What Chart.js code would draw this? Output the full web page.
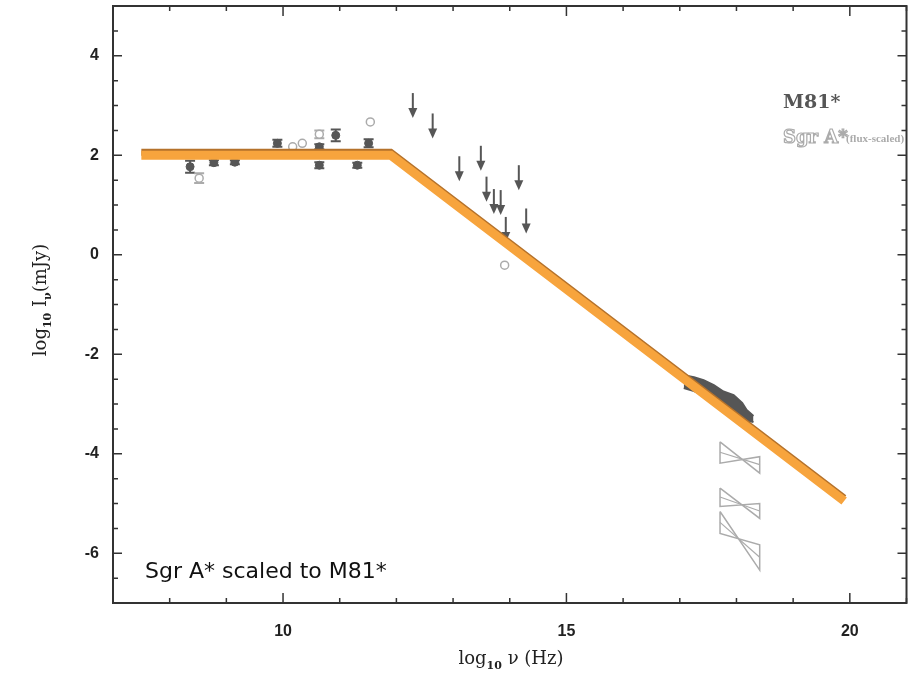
<!DOCTYPE html>
<html>
<head>
<meta charset="utf-8">
<script src="https://cdn.jsdelivr.net/npm/chart.js@4.4.1/dist/chart.umd.min.js"></script>
<style>
  html, body { margin: 0; padding: 0; background: #fff; }
  #wrap { width: 912px; height: 678px; position: relative; }
</style>
</head>
<body>
<div id="wrap"><canvas id="sed" width="912" height="678"></canvas></div>
<script>
// log10 frequency (Hz) vs log10 flux density (mJy)
const m81Nu   = [8.36, 8.78, 9.15, 9.90, 10.64, 10.64, 10.93, 11.31, 11.51];
const m81Flux = [1.77, 1.85, 1.86, 2.24, 2.17, 1.80, 2.40, 1.80, 2.24];
const m81Err  = [0.12, 0.05, 0.04, 0.07, 0.05, 0.06, 0.12, 0.05, 0.08];

const sgrNu   = [8.52, 10.17, 10.34, 10.64, 11.54, 13.91];
const sgrFlux = [1.54, 2.17, 2.24, 2.42, 2.67, -0.21];
const sgrErr  = [0.10, 0, 0, 0.08, 0, 0];

// upper limits (top of each arrow)
const limitNu   = [12.29, 12.64, 13.11, 13.49, 13.59, 13.72, 13.84, 14.16, 13.93, 14.29];
const limitFlux = [3.25, 2.84, 1.98, 2.19, 1.57, 1.32, 1.30, 1.80, 0.76, 0.93];

// X-ray spectrum envelope
const xrayNu    = [17.07, 17.25, 17.42, 17.60, 17.77, 17.95, 18.10, 18.18, 18.30];
const xrayUpper = [-2.42, -2.46, -2.52, -2.62, -2.75, -2.82, -2.98, -3.12, -3.24];
const xrayLower = [-2.68, -2.74, -2.82, -2.95, -3.09, -3.22, -3.30, -3.33, -3.36];

// Sgr A* X-ray bowties: flux at left/right ends (top, middle, bottom)
const bowtieNu    = [17.71, 18.41];
const bowtieLeft  = [[-3.76, -3.97, -4.19], [-4.69, -4.87, -5.06], [-5.16, -5.38, -5.60]];
const bowtieRight = [[-4.06, -4.22, -4.39], [-5.00, -5.15, -5.30], [-5.83, -6.08, -6.34]];

// broken power-law model
const modelNu   = [7.5, 11.9, 19.9];
const modelFlux = [2.0, 2.0, -4.95];

const xTicks = [10, 15, 20];
const yTicks = [-6, -4, -2, 0, 2, 4];

const DARK = '#565656';
const LIGHT = '#ababab';

const pts = (xs, ys) => xs.map((x, i) => ({ x: x, y: ys[i] }));

const datasets = [
    // model line on top, with a darker edge just above it
    { data: pts(modelNu, modelFlux), showLine: true, borderColor: '#f7a43d', borderWidth: 9, pointRadius: 0, order: 0 },
    { data: pts(modelNu, modelFlux.map(v => v + 0.06)), showLine: true, borderColor: '#b5722b', borderWidth: 7, pointRadius: 0, order: 1 },
    { data: pts(m81Nu, m81Flux), errors: m81Err, errColor: DARK, pointRadius: 4, pointBackgroundColor: DARK, pointBorderColor: DARK, order: 5 },
    { data: pts(sgrNu, sgrFlux), errors: sgrErr, errColor: LIGHT, pointRadius: 4, pointBackgroundColor: '#fff', pointBorderColor: LIGHT, pointBorderWidth: 1.5, order: 6 },
    { data: pts(limitNu, limitFlux), limits: true, pointRadius: 0, order: 7 },
    { data: pts(xrayNu, xrayUpper), showLine: true, borderColor: DARK, borderWidth: 2, pointRadius: 0, fill: '+1', backgroundColor: DARK, order: 3 },
    { data: pts(xrayNu, xrayLower), showLine: true, borderColor: DARK, borderWidth: 2, pointRadius: 0, order: 4 }
];

bowtieLeft.forEach((l, i) => {
    const r = bowtieRight[i];
    datasets.push({
        data: [
            { x: bowtieNu[0], y: l[0] }, { x: bowtieNu[1], y: r[2] },
            { x: bowtieNu[1], y: r[0] }, { x: bowtieNu[0], y: l[2] },
            { x: bowtieNu[0], y: l[0] }
        ],
        showLine: true, borderColor: LIGHT, borderWidth: 1.5, pointRadius: 0, order: 8
    });
    datasets.push({
        data: [{ x: bowtieNu[0], y: l[1] }, { x: bowtieNu[1], y: r[1] }],
        showLine: true, borderColor: LIGHT, borderWidth: 1.2, pointRadius: 0, order: 8
    });
});

// error bars and upper-limit arrows, drawn under the points
const markers = {
    id: 'markers',
    beforeDatasetsDraw(chart) {
        const ctx = chart.ctx;
        const xs = chart.scales.x, ys = chart.scales.y;
        ctx.save();
        chart.data.datasets.forEach(ds => {
            if (ds.errors) {
                ctx.strokeStyle = ds.errColor;
                ctx.lineWidth = 2;
                ds.data.forEach((p, i) => {
                    const e = ds.errors[i];
                    if (!e) return;
                    const px = xs.getPixelForValue(p.x);
                    const y1 = ys.getPixelForValue(p.y + e);
                    const y2 = ys.getPixelForValue(p.y - e);
                    ctx.beginPath();
                    ctx.moveTo(px, y1); ctx.lineTo(px, y2);
                    ctx.moveTo(px - 5, y1); ctx.lineTo(px + 5, y1);
                    ctx.moveTo(px - 5, y2); ctx.lineTo(px + 5, y2);
                    ctx.stroke();
                });
            }
            if (ds.limits) {
                ctx.strokeStyle = DARK;
                ctx.fillStyle = DARK;
                ctx.lineWidth = 2;
                ds.data.forEach(p => {
                    const px = xs.getPixelForValue(p.x);
                    const top = ys.getPixelForValue(p.y);
                    const tip = top + 25;
                    ctx.beginPath();
                    ctx.moveTo(px, top); ctx.lineTo(px, tip - 6);
                    ctx.stroke();
                    ctx.beginPath();
                    ctx.moveTo(px - 4.5, tip - 10);
                    ctx.lineTo(px + 4.5, tip - 10);
                    ctx.lineTo(px, tip);
                    ctx.closePath();
                    ctx.fill();
                });
            }
        });
        ctx.restore();
    }
};

// frame with inward ticks on all four sides
const frame = {
    id: 'frame',
    afterDraw(chart) {
        const ctx = chart.ctx;
        const a = chart.chartArea;
        const xs = chart.scales.x, ys = chart.scales.y;
        ctx.save();
        ctx.strokeStyle = '#333';
        ctx.lineWidth = 1.5;
        for (let v = Math.ceil(xs.min); v <= xs.max; v++) {
            const px = xs.getPixelForValue(v);
            const len = v % 5 === 0 ? 10 : 5;
            ctx.beginPath();
            ctx.moveTo(px, a.bottom); ctx.lineTo(px, a.bottom - len);
            ctx.moveTo(px, a.top); ctx.lineTo(px, a.top + len);
            ctx.stroke();
        }
        for (let v = ys.min; v <= ys.max; v += 0.5) {
            const py = ys.getPixelForValue(v);
            const len = Math.abs(v % 2) === 0 ? 9 : 5;
            ctx.beginPath();
            ctx.moveTo(a.left, py); ctx.lineTo(a.left + len, py);
            ctx.moveTo(a.right, py); ctx.lineTo(a.right - len, py);
            ctx.stroke();
        }
        ctx.lineWidth = 2;
        ctx.strokeRect(a.left, a.top, a.right - a.left, a.bottom - a.top);
        ctx.restore();
    }
};

// draws a run of text pieces, some lowered as subscripts, centred on (cx, cy)
function drawParts(ctx, parts, cx, cy) {
    let w = 0;
    parts.forEach(p => { ctx.font = p.font; p.w = ctx.measureText(p.t).width; w += p.w; });
    let x = cx - w / 2;
    parts.forEach(p => {
        ctx.font = p.font;
        ctx.fillText(p.t, x, cy + (p.dy || 0));
        x += p.w;
    });
}

const labels = {
    id: 'labels',
    afterDraw(chart) {
        const ctx = chart.ctx;
        const big = '18px "DejaVu Serif"';
        const sub = 'bold 11px "DejaVu Serif"';
        ctx.save();
        ctx.textBaseline = 'alphabetic';
        ctx.fillStyle = '#222';

        drawParts(ctx, [
            { t: 'log', font: big }, { t: '10', font: sub, dy: 5 },
            { t: ' \u03bd (Hz)', font: big }
        ], 511, 664);

        ctx.translate(46, 300);
        ctx.rotate(-Math.PI / 2);
        drawParts(ctx, [
            { t: 'log', font: big }, { t: '10', font: sub, dy: 5 },
            { t: ' I', font: big }, { t: '\u03bd', font: sub, dy: 5 },
            { t: '(mJy)', font: big }
        ], 0, 0);
        ctx.setTransform(1, 0, 0, 1, 0, 0);

        ctx.textAlign = 'left';
        ctx.fillStyle = DARK;
        ctx.font = 'bold 19px "DejaVu Serif"';
        ctx.fillText('M81*', 783, 108);

        ctx.strokeStyle = LIGHT;
        ctx.lineWidth = 1.2;
        ctx.font = 'bold 18px "DejaVu Serif"';
        ctx.strokeText('Sgr A*', 783, 143);
        ctx.fillStyle = LIGHT;
        ctx.font = 'bold 11px "Liberation Serif"';
        ctx.fillText('(flux-scaled)', 846, 142);

        ctx.fillStyle = '#111';
        ctx.font = '22px "DejaVu Sans"';
        ctx.fillText('Sgr A* scaled to M81*', 145, 578);
        ctx.restore();
    }
};

new Chart(document.getElementById('sed'), {
    type: 'scatter',
    data: { datasets: datasets },
    options: {
        responsive: false,
        animation: false,
        layout: { padding: { left: 0, right: 2, top: 6, bottom: 0 } },
        plugins: { legend: { display: false }, tooltip: { enabled: false } },
        scales: {
            x: {
                type: 'linear', min: 7, max: 21,
                afterBuildTicks: s => { s.ticks = xTicks.map(v => ({ value: v })); },
                afterFit: s => { s.height = 75; s.paddingLeft = 0; s.paddingRight = 0; },
                grid: { display: false, drawTicks: false },
                border: { display: false },
                ticks: { padding: 19, color: '#222', font: { family: '"Liberation Sans"', size: 16, weight: 'bold' } }
            },
            y: {
                type: 'linear', min: -7, max: 5,
                afterBuildTicks: s => { s.ticks = yTicks.map(v => ({ value: v })); },
                afterFit: s => { s.width = 113; s.paddingTop = 0; s.paddingBottom = 0; },
                grid: { display: false, drawTicks: false },
                border: { display: false },
                ticks: { padding: 14, color: '#222', font: { family: '"Liberation Sans"', size: 16, weight: 'bold' } }
            }
        }
    },
    plugins: [markers, frame, labels]
});
</script>
</body>
</html>
